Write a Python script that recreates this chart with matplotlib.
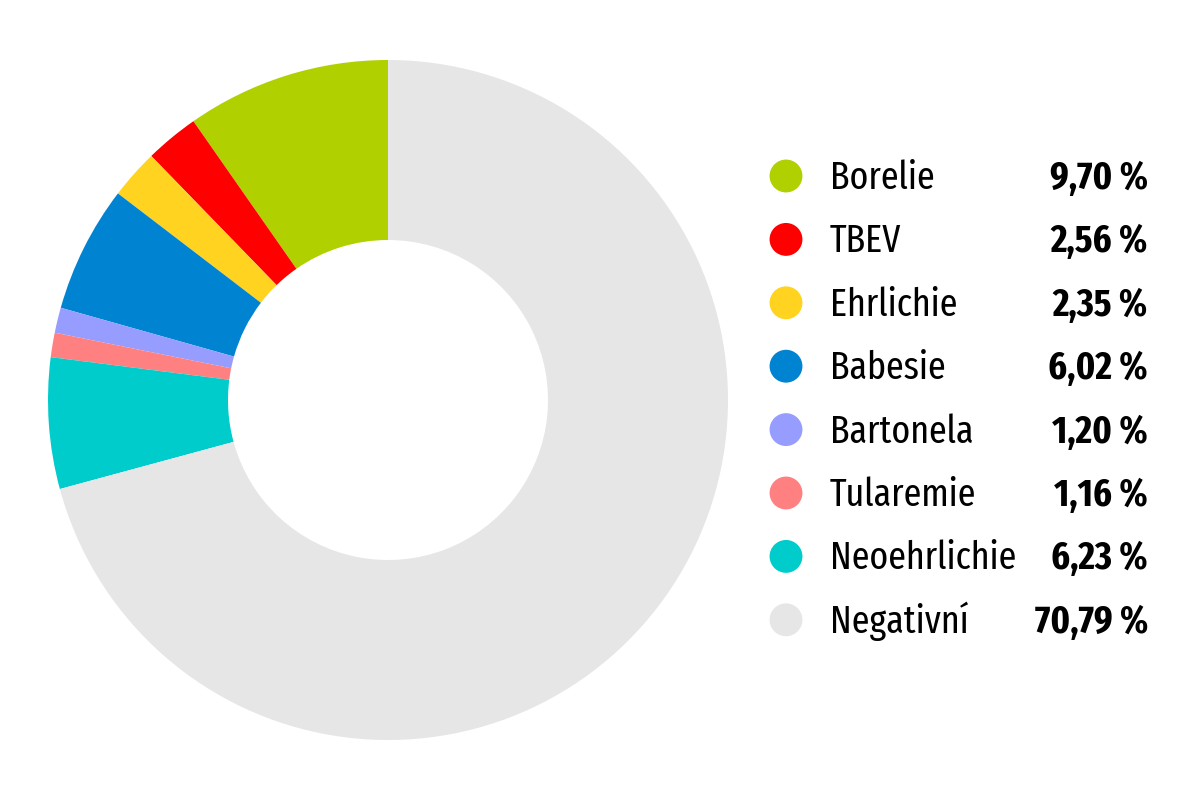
import matplotlib
matplotlib.use("Agg")
import matplotlib.pyplot as plt

# Data
labels = ["Borelie", "TBEV", "Ehrlichie", "Babesie", "Bartonela", "Tularemie", "Neoehrlichie", "Negativní"]
values = [9.70, 2.56, 2.35, 6.02, 1.20, 1.16, 6.23, 70.79]
value_labels = ["9,70 %", "2,56 %", "2,35 %", "6,02 %", "1,20 %", "1,16 %", "6,23 %", "70,79 %"]
colors = ["#b0d000", "#ff0000", "#ffd320", "#0084d1", "#979dff", "#ff8080", "#00cccc", "#e6e6e6"]

font = ["Fira Sans Extra Condensed", "Fira Sans Condensed", "DejaVu Sans"]

fig = plt.figure(figsize=(12, 8), dpi=100)

# donut: centre (388, 400) px, outer radius 340 px, inner 160 px
ax = fig.add_axes([48 / 1200, 60 / 800, 680 / 1200, 680 / 800])
ax.pie(values, colors=colors, startangle=90, counterclock=True,
       wedgeprops=dict(width=180 / 340, linewidth=0))
ax.set_xlim(-1, 1)
ax.set_ylim(-1, 1)
ax.set_aspect("equal")

# legend drawn on an overlay in pixel coordinates
lax = fig.add_axes([0, 0, 1, 1])
lax.set_xlim(0, 1200)
lax.set_ylim(800, 0)
lax.axis("off")
baselines = [189 + i * 63.4 for i in range(len(labels))]
lax.scatter([786] * len(labels), [b - 13 for b in baselines], s=560, c=colors, linewidths=0)
for y, lab, val in zip(baselines, labels, value_labels):
    lax.text(830, y, lab, fontsize=28, family=font, va="baseline", ha="left")
    lax.text(1148, y, val, fontsize=28, family=font, fontweight="bold", va="baseline", ha="right")

fig.savefig("out.png", dpi=100)
